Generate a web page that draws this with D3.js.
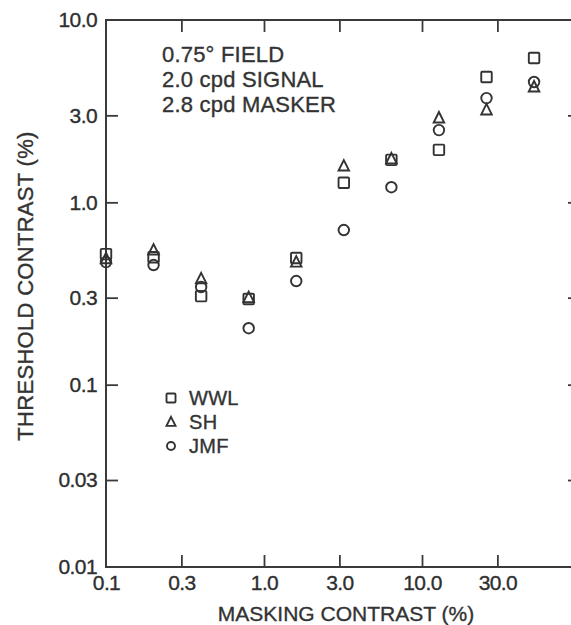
<!DOCTYPE html>
<html>
<head>
<meta charset="utf-8">
<script src="https://cdn.jsdelivr.net/npm/d3@7"></script>
<style>
  html, body { margin: 0; padding: 0; background: #fff; }
  svg { display: block; font-family: "Liberation Sans", Arial, Helvetica, sans-serif; }
  svg text { stroke: #333; stroke-width: 0.35px; }
  .tick text { fill: #2e2e2e; font-size: 21px; letter-spacing: -0.6px; }
  .tick line { stroke: #3a3a3a; stroke-width: 1.8; }
</style>
</head>
<body>
<svg id="chart" width="571" height="625"></svg>
<script>
// Masking contrast (%) for each condition, doubling from 0.1 %
const maskingContrast = [0.1, 0.2, 0.4, 0.8, 1.6, 3.2, 6.4, 12.8, 25.6, 51.2];

// Threshold contrast (%) for each observer
const thresholdWWL = [0.52, 0.50, 0.306, 0.295, 0.495, 1.28, 1.71, 1.94, 4.87, 6.19];
const thresholdSH  = [0.49, 0.547, 0.38, 0.30, 0.47, 1.58, 1.73, 2.90, 3.21, 4.29];
const thresholdJMF = [0.47, 0.453, 0.343, 0.204, 0.37, 0.705, 1.21, 2.49, 3.73, 4.57];

const observers = ["WWL", "SH", "JMF"];
const markerShapes = ["square", "triangle", "circle"];

// Axis ticks and their printed labels
const xTickValues = [0.1, 0.3, 1, 3, 10, 30];
const xTickLabels = ["0.1", "0.3", "1.0", "3.0", "10.0", "30.0"];
const yTickValues = [0.01, 0.03, 0.1, 0.3, 1, 3, 10];
const yTickLabels = ["0.01", "0.03", "0.1", "0.3", "1.0", "3.0", "10.0"];

const conditionLines = ["0.75\u00B0 FIELD", "2.0 cpd SIGNAL", "2.8 cpd MASKER"];

const svg = d3.select("#chart");
const ink = "#333";

const plotLeft = 106, plotRight = 580, plotTop = 20, plotBottom = 567;

const x = d3.scaleLog().domain([0.1, 100]).range([plotLeft, plotRight]);
const y = d3.scaleLog().domain([0.01, 10]).range([plotBottom, plotTop]);

// Frame
svg.append("rect")
  .attr("x", plotLeft).attr("y", plotTop)
  .attr("width", plotRight - plotLeft).attr("height", plotBottom - plotTop)
  .attr("fill", "none").attr("stroke", "#3a3a3a").attr("stroke-width", 2);

function fmt(values, labels) {
  return d => labels[values.indexOf(d)];
}

// Bottom axis: labels under the frame, ticks pointing inward
const xAxis = svg.append("g")
  .attr("transform", `translate(0,${plotBottom})`)
  .call(d3.axisBottom(x).tickValues(xTickValues).tickFormat(fmt(xTickValues, xTickLabels))
    .tickSizeInner(-12).tickSizeOuter(0).tickPadding(8));
xAxis.select(".domain").remove();
xAxis.selectAll(".tick").filter(d => d === 0.1).select("line").remove();

// Top axis: inward ticks only
const xTop = svg.append("g")
  .attr("transform", `translate(0,${plotTop})`)
  .call(d3.axisTop(x).tickValues(xTickValues.slice(1)).tickFormat("")
    .tickSizeInner(-12).tickSizeOuter(0));
xTop.select(".domain").remove();

// Left axis
const yAxis = svg.append("g")
  .attr("transform", `translate(${plotLeft},0)`)
  .call(d3.axisLeft(y).tickValues(yTickValues).tickFormat(fmt(yTickValues, yTickLabels))
    .tickSizeInner(-12).tickSizeOuter(0).tickPadding(9));
yAxis.select(".domain").remove();
yAxis.selectAll(".tick").filter(d => d === 0.01 || d === 10).select("line").remove();

// Right axis: inward ticks only
const yRight = svg.append("g")
  .attr("transform", `translate(${plotRight},0)`)
  .call(d3.axisRight(y).tickValues(yTickValues.slice(1, -1)).tickFormat("")
    .tickSizeInner(-12).tickSizeOuter(0));
yRight.select(".domain").remove();

// Axis titles
svg.append("text")
  .attr("x", 346).attr("y", 621)
  .attr("text-anchor", "middle")
  .attr("font-size", 21).attr("fill", ink)
  .text("MASKING CONTRAST (%)");

svg.append("text")
  .attr("transform", "translate(33,286) rotate(-90)")
  .attr("text-anchor", "middle")
  .attr("font-size", 22).attr("fill", ink)
  .attr("letter-spacing", 0.3)
  .text("THRESHOLD CONTRAST (%)");

// Stimulus conditions
svg.append("g").selectAll("text")
  .data(conditionLines)
  .join("text")
  .attr("x", 162)
  .attr("y", (d, i) => 62 + i * 25)
  .attr("font-size", 22).attr("fill", ink)
  .attr("letter-spacing", 0.2)
  .text(d => d);

// Marker drawing
function drawMarker(g, shape, size) {
  const h = size / 2;
  if (shape === "square") {
    g.append("rect").attr("x", -h).attr("y", -h).attr("width", size).attr("height", size).attr("rx", 1);
  } else if (shape === "triangle") {
    g.append("path").attr("d", `M0,${-h * 1.15}L${h},${h * 0.85}L${-h},${h * 0.85}Z`);
  } else {
    g.append("circle").attr("r", h);
  }
}

const series = [thresholdWWL, thresholdSH, thresholdJMF];

const points = svg.append("g")
  .attr("fill", "none").attr("stroke", ink).attr("stroke-width", 1.9);

series.forEach((values, s) => {
  points.selectAll(null)
    .data(maskingContrast.map((m, i) => ({ m, v: values[i] })))
    .join("g")
    .attr("transform", d => `translate(${x(d.m)},${y(d.v)})`)
    .each(function () { drawMarker(d3.select(this), markerShapes[s], 10.5); });
});

// Legend
const legend = svg.append("g");
observers.forEach((name, i) => {
  const yy = 398 + i * 24;
  const g = legend.append("g")
    .attr("transform", `translate(171,${yy})`)
    .attr("fill", "none").attr("stroke", ink).attr("stroke-width", 1.9);
  drawMarker(g, markerShapes[i], i === 2 ? 8 : 9);
  legend.append("text")
    .attr("x", 189).attr("y", yy + 7)
    .attr("font-size", 20).attr("fill", ink)
    .attr("letter-spacing", 0.3)
    .text(name);
});
</script>
</body>
</html>
